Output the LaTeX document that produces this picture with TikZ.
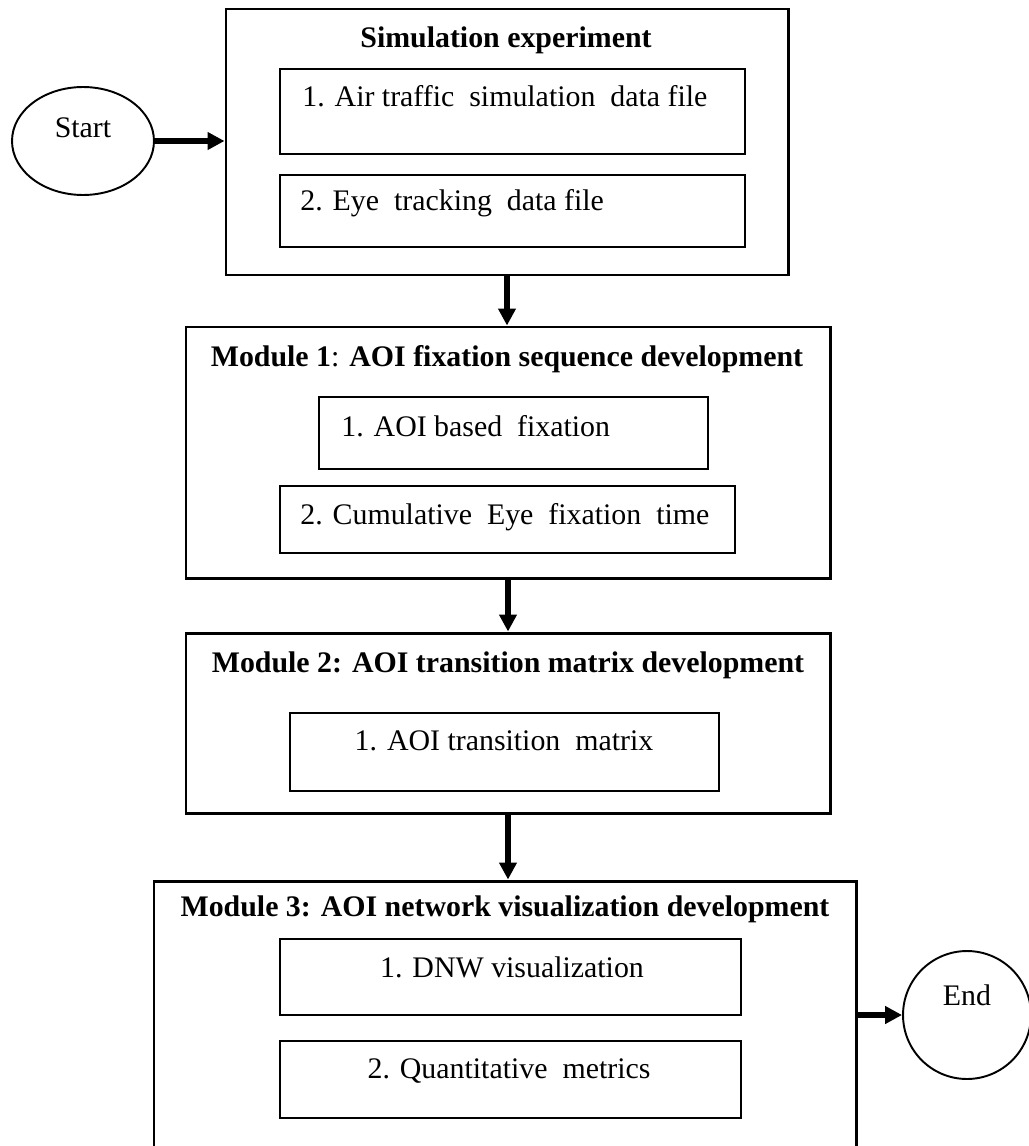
\documentclass[tikz,border=0pt]{standalone}
\usepackage{fontspec}
\setmainfont{Liberation Serif}
\usetikzlibrary{positioning,arrows.meta,fit,shapes.geometric}
\tikzset{
  outer/.style={draw,line width=1.7pt,inner sep=0pt},
  inbox/.style={draw,line width=1.4pt,inner sep=0pt},
  ttl/.style={font=\fontsize{17}{20}\selectfont\bfseries,anchor=base,inner sep=0pt},
  txt/.style={font=\fontsize{17}{20}\selectfont,anchor=base,inner sep=0pt},
  txtl/.style={txt,anchor=base west},
  term/.style={draw,line width=1.1pt,font=\fontsize{17}{20}\selectfont,inner sep=0pt,text height=0.37cm},
  ar/.style={-{Triangle[length=0.34cm,width=0.34cm]},line width=0.11cm},
}

\begin{document}
\begin{tikzpicture}[x=0.02cm,y=-0.02cm]
  \useasboundingbox (0,0) rectangle (1028,1146);
  % start / end
  \node[term,ellipse,minimum width=2.84cm,minimum height=2.16cm,text depth=0.53cm] (start) at (83,141) {Start};
  \node[term,circle,minimum size=2.56cm,text depth=0.77cm] (endn) at (967,1015) {End};
  % simulation experiment
  \node[outer,fit={(226,9) (788,275)}] (sim) {};
  \node[ttl] (simttl) at (506,47) {Simulation experiment};
  \node[inbox,fit={(280,69) (745,154)}] (simA) {};
  \node[txtl] (simAtxt) at (302,106) {1. Air traffic \ simulation \ data file};
  \node[inbox,fit={(280,175) (745,247)}] (simB) {};
  \node[txtl] (simBtxt) at (300,210) {2. Eye \ tracking \ data file};
  % module 1
  \node[outer,fit={(186,327) (830,578)}] (modA) {};
  \node[ttl] (modAttl) at (507,366) {Module 1\textmd{:} AOI fixation sequence development};
  \node[inbox,fit={(319,397) (708,469)}] (modAa) {};
  \node[txtl] (modAatxt) at (341,436) {1. AOI based \ fixation};
  \node[inbox,fit={(280,486) (735,553)}] (modAb) {};
  \node[txtl] (modAbtxt) at (300,524) {2. Cumulative \ Eye \ fixation \ time};
  % module 2
  \node[outer,fit={(186,633) (830,813)}] (modB) {};
  \node[ttl] (modBttl) at (508,672) {Module 2: AOI transition matrix development};
  \node[inbox,fit={(290,713) (719,791)}] (modBa) {};
  \node[txt] (modBatxt) at (504,750) {1. AOI transition \ matrix};
  % module 3
  \node[outer,fit={(154,881) (856,1160)}] (modC) {};
  \node[ttl] (modCttl) at (505,916) {Module 3: AOI network visualization development};
  \node[inbox,fit={(280,939) (741,1015)}] (modCa) {};
  \node[txt] (modCatxt) at (512,977) {1. DNW visualization};
  \node[inbox,fit={(280,1041) (741,1118)}] (modCb) {};
  \node[txt] (modCbtxt) at (509,1078) {2. Quantitative \ metrics};
  % arrows
  \draw[ar] (start.east) -- (start.east -| sim.west);
  \draw[ar] (sim.south) -- (sim.south |- modA.north);
  \draw[ar] (modA.south) -- (modA.south |- modB.north);
  \draw[ar] (modB.south) -- (modB.south |- modC.north);
  \draw[ar] (endn.west -| modC.east) -- (endn.west);
\end{tikzpicture}
\end{document}
